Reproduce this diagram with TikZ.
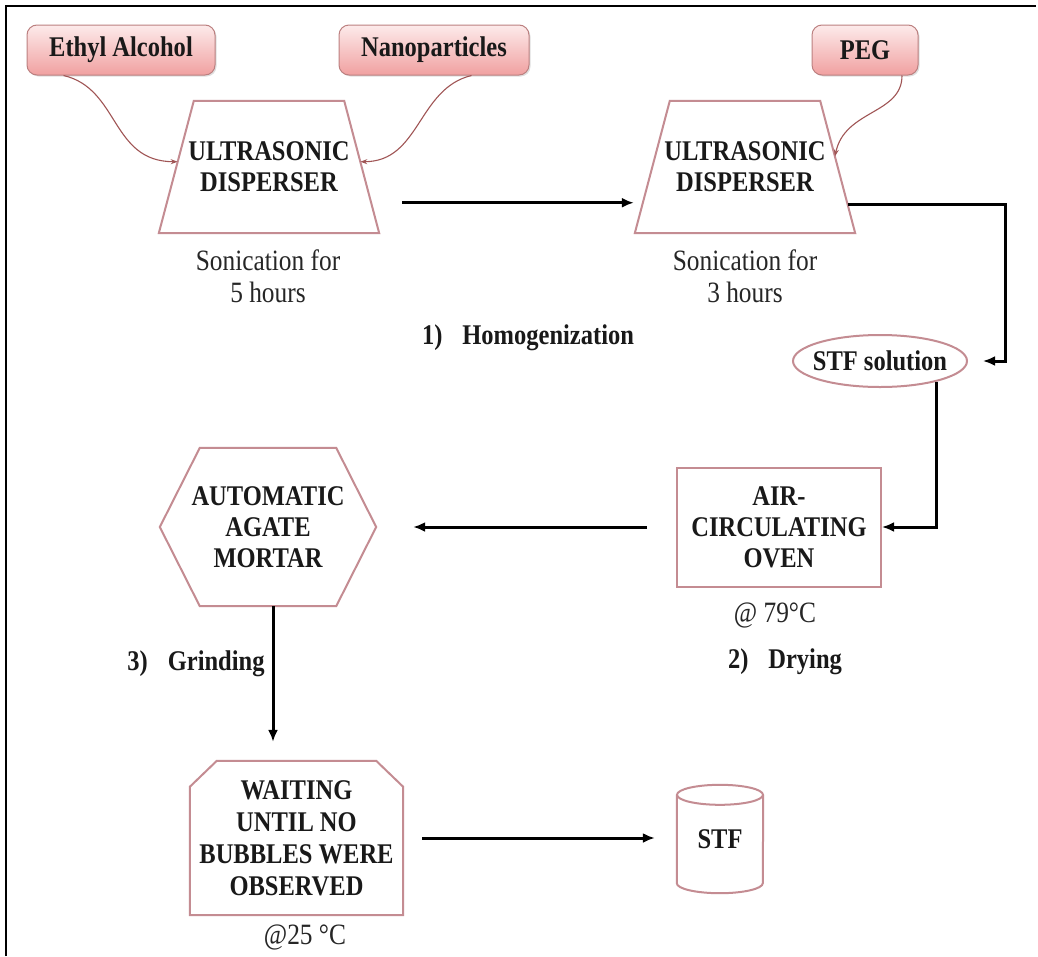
\documentclass[tikz,border=0pt]{standalone}
\usepackage{fontspec}
\setmainfont{Liberation Serif}[FakeStretch=0.86]
\usetikzlibrary{arrows.meta,calc,shapes.geometric,shadows}
\definecolor{edgepink}{RGB}{196,140,146}
\definecolor{boxtop}{RGB}{253,235,235}
\definecolor{boxbot}{RGB}{240,160,160}
\definecolor{boxline}{RGB}{188,128,128}
\definecolor{curvecol}{RGB}{160,85,85}
\begin{document}
\begin{tikzpicture}[x=1pt,y=-1pt,
  big/.style={font=\fontsize{28.5}{31}\selectfont\bfseries, align=center, text=black!90},
  plain/.style={font=\fontsize{29.5}{32}\selectfont, align=center, text=black!85},
  ingr/.style={big, draw=boxline, line width=1pt, rounded corners=10pt,
    top color=boxtop, bottom color=boxbot, minimum height=50pt, inner sep=0pt,
    drop shadow={shadow xshift=1.5pt, shadow yshift=-1.5pt, opacity=0.25}},
  outline/.style={draw=edgepink, line width=2pt},
  flow/.style={draw=black, line width=3pt, -{Latex[length=12pt,width=10pt]}},
  feed/.style={draw=curvecol, line width=1.1pt, -{Stealth[length=7pt,width=5pt]}},
]
% page and frame
\fill[white] (0,0) rectangle (1038,956);
\useasboundingbox (0,0) rectangle (1038,956);
\draw[line width=1.8pt] (6,956) -- (6,6) -- (1036,6);

% ingredients
\node[ingr, minimum width=188pt] (eth) at (121,50) {Ethyl Alcohol};
\node[ingr, minimum width=190pt] (nano) at (434,50) {Nanoparticles};
\node[ingr, minimum width=106pt] (peg) at (865,50) {PEG};

% homogenization: two ultrasonic dispersers (trapezoids)
\foreach \n/\cx in {us1/269, us2/745} {
  \node[big, minimum width=220pt, minimum height=132pt, inner sep=0pt]
    (\n) at (\cx,167) {ULTRASONIC\\DISPERSER};
  \coordinate (\n bl) at (\n.south west);
  \coordinate (\n br) at (\n.south east);
  \coordinate (\n tl) at ($(\n.north west)+(35,0)$);
  \coordinate (\n tr) at ($(\n.north east)+(-35,0)$);
  \draw[outline] (\n bl) -- (\n tl) -- (\n tr) -- (\n br) -- cycle;
}
\node[plain] (son1) at (268,276) {Sonication for\\5 hours};
\node[plain] (son2) at (745,276) {Sonication for\\3 hours};
\node[big] (homog) at (528,338) {1)\hspace{0.7em}Homogenization};

\node[outline, big, ellipse, minimum width=174pt, minimum height=52pt, inner sep=0pt]
  (sol) at (880,361) {\makebox[0pt]{STF solution}};

% drying
\node[outline, big, rectangle, minimum width=204pt, minimum height=119pt, inner sep=0pt]
  (oven) at (779,527) {AIR-\\CIRCULATING\\OVEN};
\node[plain] (t79) at (775,615) {@ 79°C};
\node[big] (dry) at (785,662) {2)\hspace{0.7em}Drying};

% grinding
\node[big, minimum width=216pt, minimum height=158pt, inner sep=0pt]
  (mortar) at (268,527) {AUTOMATIC\\AGATE\\MORTAR};
\draw[outline] (mortar.west) -- ($(mortar.north west)+(40,0)$)
  -- ($(mortar.north east)+(-40,0)$) -- (mortar.east)
  -- ($(mortar.south east)+(-40,0)$) -- ($(mortar.south west)+(40,0)$) -- cycle;
\node[big] (grind) at (196,664) {3)\hspace{0.7em}Grinding};

% waiting
\node[big, minimum width=213pt, minimum height=154pt, inner sep=0pt]
  (wait) at (296.5,838) {WAITING\\[1pt]UNTIL NO\\[1pt]BUBBLES WERE\\[1pt]OBSERVED};
\draw[outline] ($(wait.north west)+(0,26)$) -- ($(wait.north west)+(27,0)$)
  -- ($(wait.north east)+(-27,0)$) -- ($(wait.north east)+(0,26)$)
  -- (wait.south east) -- (wait.south west) -- cycle;
\node[plain] (t25) at (305,937) {@25 °C};

% product
\node[big, minimum width=86pt, minimum height=108pt, inner sep=0pt] (stf) at (720,839) {STF};
\draw[outline] ($(stf.north west)+(0,10)$) -- ($(stf.south west)+(0,-10)$)
  arc[start angle=180, end angle=0, x radius=43, y radius=10]
  -- ($(stf.north east)+(0,10)$);
\draw[outline] ($(stf.north)+(0,10)$) ellipse [x radius=43, y radius=10];

% feed lines
\draw[feed] ($(eth.south west)+(37,0)$) .. controls +(56,13) and +(-67,0) ..
  ($(us1bl)!0.54!(us1tl)$);
\draw[feed] ($(nano.south east)+(-58,0)$) .. controls +(-54,13) and +(60,0) ..
  ($(us1br)!0.54!(us1tr)$);
\draw[feed] ($(peg.south)+(37,0)$) .. controls +(0,39) and +(10,-47) ..
  ($(us2br)!0.58!(us2tr)$);

% process flow
\draw[flow, shorten <=31pt, shorten >=9pt]
  ($(us1br)!0.23!(us1tr)$) -- ($(us2bl)!0.23!(us2tl)$);
\coordinate (us2out) at ($(us2br)!0.22!(us2tr)$);
\draw[flow, shorten >=15pt] (us2out) -- ++(158,0) |- (sol.east);
\draw[flow] (sol.-20) |- (oven.east);
\draw[flow, shorten <=29pt, shorten >=37pt] (oven.west) -- (mortar.east);
\coordinate (mb) at ($(mortar.south)+(5,0)$);
\draw[flow, shorten >=19pt] (mb) -- (mb |- wait.north);
\draw[flow, shorten <=19pt, shorten >=22pt] (wait.east) -- (wait.east -| stf.west);
\end{tikzpicture}
\end{document}
